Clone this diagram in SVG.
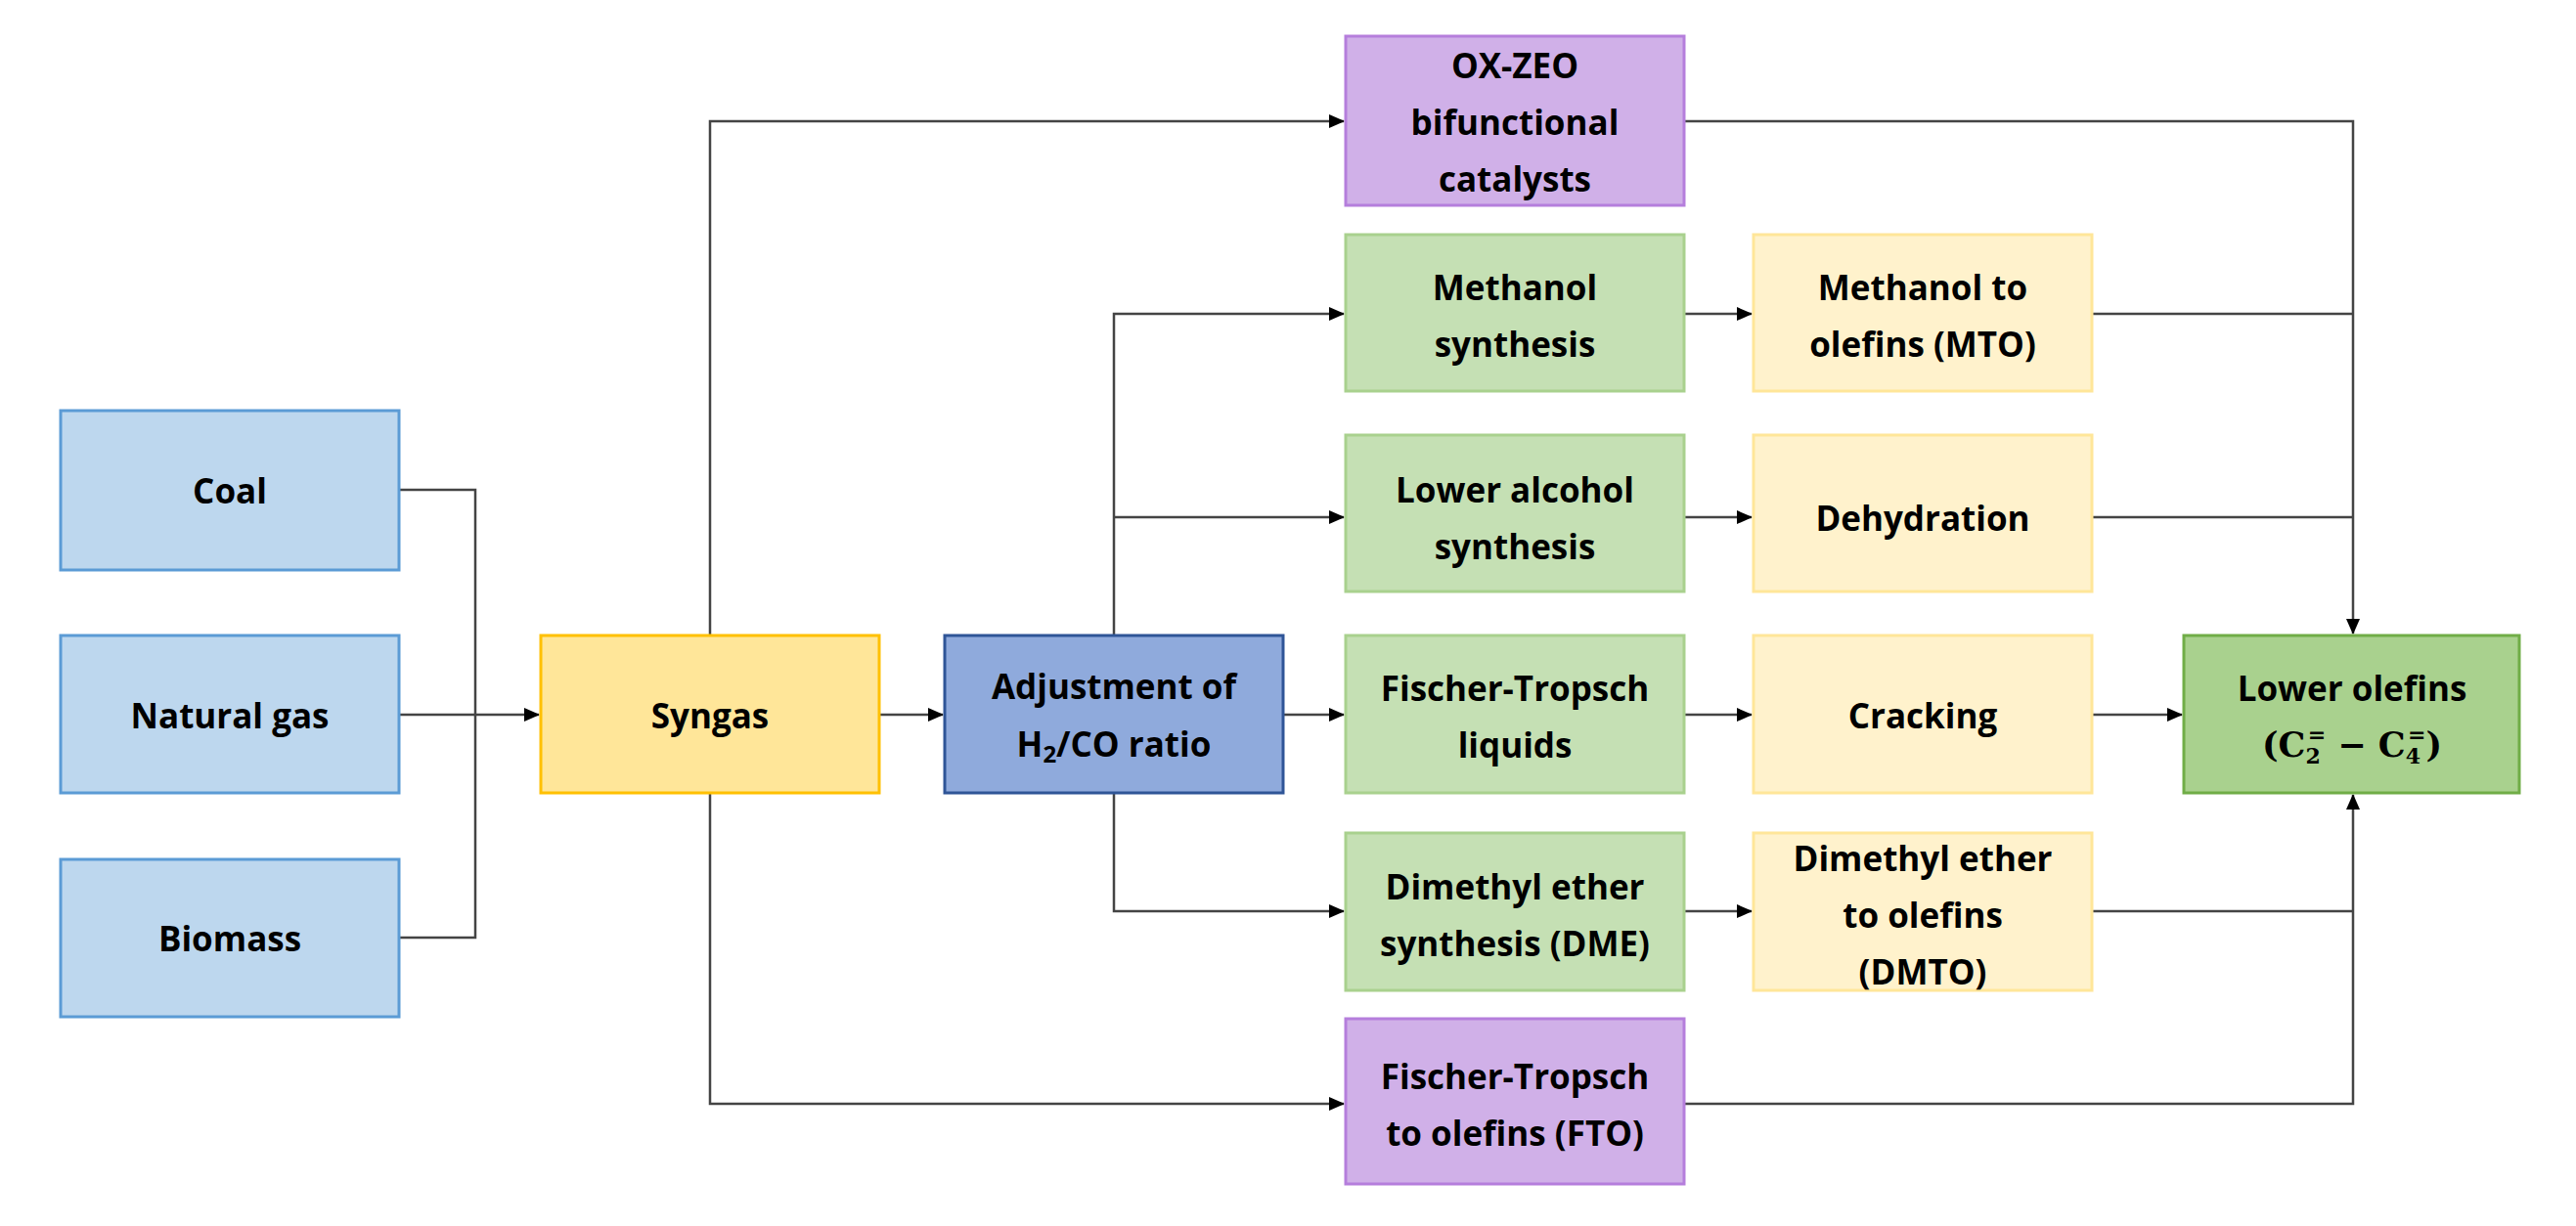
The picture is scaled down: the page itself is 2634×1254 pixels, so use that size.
<svg xmlns="http://www.w3.org/2000/svg" width="2634" height="1254" viewBox="0 0 2634 1254">
<style>
text{font-family:"Open Sans","Liberation Sans",sans-serif;font-weight:bold;font-size:35px;fill:#000;text-anchor:middle;dominant-baseline:central}
rect{stroke-width:3}
.src{fill:#BDD7EE;stroke:#5B9BD5}
.syn{fill:#FFE699;stroke:#FFC000}
.adj{fill:#8FAADC;stroke:#2F5597}
.grn{fill:#C5E0B4;stroke:#A9D18E}
.yel{fill:#FFF2CC;stroke:#FFE699}
.pur{fill:#D0B0E8;stroke:#B57EDC}
.out{fill:#A9D18E;stroke:#70AD47}
.c path{fill:none;stroke:#444;stroke-width:2.5}
.m{font-family:"DejaVu Serif","Liberation Serif",serif}
</style>
<defs><marker id="a" markerWidth="16" markerHeight="16" refX="15" refY="8" orient="auto" markerUnits="userSpaceOnUse"><path d="M0,1L16,8L0,15Z" fill="#000"/></marker></defs>
<rect width="2634" height="1254" fill="#fff"/>
<g class="c">
<path d="M408,501H486V959H408"/>
<path d="M408,731H551" marker-end="url(#a)"/>
<path d="M899,731H964" marker-end="url(#a)"/>
<path d="M726,650V124H1374" marker-end="url(#a)"/>
<path d="M726,811V1129H1374" marker-end="url(#a)"/>
<path d="M1139,650V321H1374" marker-end="url(#a)"/>
<path d="M1139,529H1374" marker-end="url(#a)"/>
<path d="M1312,731H1374" marker-end="url(#a)"/>
<path d="M1139,811V932H1374" marker-end="url(#a)"/>
<path d="M1722,321H1791" marker-end="url(#a)"/>
<path d="M1722,529H1791" marker-end="url(#a)"/>
<path d="M1722,731H1791" marker-end="url(#a)"/>
<path d="M1722,932H1791" marker-end="url(#a)"/>
<path d="M2139,731H2231" marker-end="url(#a)"/>
<path d="M1722,124H2406V648" marker-end="url(#a)"/>
<path d="M2139,321H2406"/>
<path d="M2139,529H2406"/>
<path d="M2139,932H2406"/>
<path d="M1722,1129H2406V813" marker-end="url(#a)"/>
</g>
<g id="coal"><rect class="src" x="62" y="420" width="346" height="163"/><text x="235" y="501">Coal</text></g>
<g id="natgas"><rect class="src" x="62" y="650" width="346" height="161"/><text x="235" y="731">Natural gas</text></g>
<g id="biomass"><rect class="src" x="62" y="879" width="346" height="161"/><text x="235" y="959">Biomass</text></g>
<g id="syngas"><rect class="syn" x="553" y="650" width="346" height="161"/><text x="726" y="731">Syngas</text></g>
<g id="adjust"><rect class="adj" x="966" y="650" width="346" height="161"/><text x="1139" y="701">Adjustment of</text><text x="1139" y="760">H<tspan font-size="24" dy="10">2</tspan><tspan dy="-10">/CO ratio</tspan></text></g>
<g id="oxzeo"><rect class="pur" x="1376" y="37" width="346" height="173"/><text x="1549" y="66">OX-ZEO</text><text x="1549" y="124">bifunctional</text><text x="1549" y="182">catalysts</text></g>
<g id="methanol"><rect class="grn" x="1376" y="240" width="346" height="160"/><text x="1549" y="293">Methanol</text><text x="1549" y="351">synthesis</text></g>
<g id="loweralc"><rect class="grn" x="1376" y="445" width="346" height="160"/><text x="1549" y="500">Lower alcohol</text><text x="1549" y="558">synthesis</text></g>
<g id="ftliq"><rect class="grn" x="1376" y="650" width="346" height="161"/><text x="1549" y="703">Fischer-Tropsch</text><text x="1549" y="761">liquids</text></g>
<g id="dme"><rect class="grn" x="1376" y="852" width="346" height="161"/><text x="1549" y="906">Dimethyl ether</text><text x="1549" y="964">synthesis (DME)</text></g>
<g id="fto"><rect class="pur" x="1376" y="1042" width="346" height="169"/><text x="1549" y="1100">Fischer-Tropsch</text><text x="1549" y="1158">to olefins (FTO)</text></g>
<g id="mto"><rect class="yel" x="1793" y="240" width="346" height="160"/><text x="1966" y="293">Methanol to</text><text x="1966" y="351">olefins (MTO)</text></g>
<g id="dehyd"><rect class="yel" x="1793" y="445" width="346" height="160"/><text x="1966" y="529">Dehydration</text></g>
<g id="crack"><rect class="yel" x="1793" y="650" width="346" height="161"/><text x="1966" y="731">Cracking</text></g>
<g id="dmto"><rect class="yel" x="1793" y="852" width="346" height="161"/><text x="1966" y="877">Dimethyl ether</text><text x="1966" y="935">to olefins</text><text x="1966" y="993">(DMTO)</text></g>
<g id="olefins"><rect class="out" x="2233" y="650" width="343" height="161"/><text x="2405" y="703">Lower olefins</text><text class="m" x="2405" y="761">(C<tspan font-size="22" dy="12">2</tspan><tspan font-size="22" dx="-13" dy="-22">=</tspan><tspan dy="10"> − C</tspan><tspan font-size="22" dy="12">4</tspan><tspan font-size="22" dx="-13" dy="-22">=</tspan><tspan dy="10">)</tspan></text></g>
</svg>
